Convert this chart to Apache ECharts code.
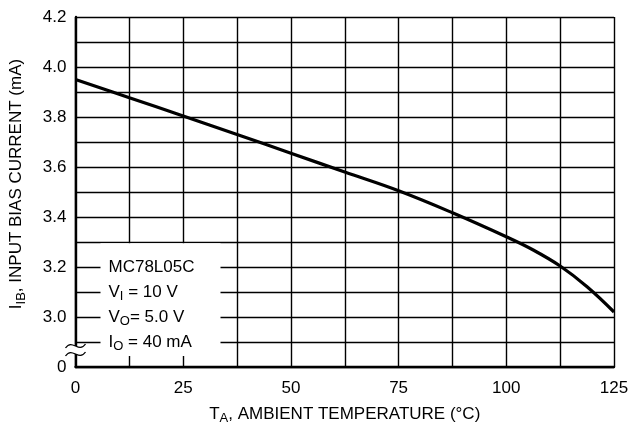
<!DOCTYPE html>
<html>
<head>
<meta charset="utf-8">
<script src="https://cdn.jsdelivr.net/npm/echarts@6/dist/echarts.min.js"></script>
<style>
html,body{margin:0;padding:0;background:#fff;}
#chart{width:633px;height:435px;}
</style>
</head>
<body>
<div id="chart"></div>
<script>
// ---- data ----
const temperatures = [0, 12.5, 25, 37.5, 50, 62.5, 75, 87.5, 100, 106.25, 112.5, 118.75, 125];
const biasCurrent = [3.95, 3.877, 3.804, 3.73, 3.655, 3.58, 3.505, 3.417, 3.321, 3.268, 3.204, 3.121, 3.02];
const xTickLabels = [0, 25, 50, 75, 100, 125];
const yTickLabels = ['3.0', '3.2', '3.4', '3.6', '3.8', '4.0', '4.2'];
const yBreakValue = 2.8;   // bottom of axis, shown as "0"
const noteLines = [
  'MC78L05C',
  'V{s|I} = 10 V',
  'V{s|O}= 5.0 V',
  'I{s|O} = 40 mA'
];
const noteRows = [3.2, 3.1, 3.0, 2.9];

const FONT = '"Liberation Sans", Arial, sans-serif';
const FS = 17;
const SUB = 13;

const chart = echarts.init(document.getElementById('chart'), null, {renderer: 'canvas'});

const option = {
  animation: false,
  backgroundColor: '#fff',
  textStyle: {fontFamily: FONT},
  grid: {left: 72, right: 19, top: 17, bottom: 68, containLabel: false},
  xAxis: {
    type: 'value',
    min: 0, max: 125, interval: 12.5,
    axisLine: {show: true, lineStyle: {color: '#000', width: 2.4}},
    axisTick: {show: false},
    splitLine: {show: true, lineStyle: {color: '#000', width: 1.4}},
    axisLabel: {
      color: '#000', fontSize: FS, fontFamily: FONT, margin: 13,
      formatter: v => xTickLabels.indexOf(Math.round(v * 100) / 100) >= 0 ? String(Math.round(v)) : ''
    },
    name: 'T{s|A}, AMBIENT TEMPERATURE (°C)',
    nameLocation: 'middle',
    nameGap: 36,
    nameTextStyle: {
      color: '#000', fontSize: FS, fontFamily: FONT,
      rich: {s: {fontSize: SUB, fontFamily: FONT, color: '#000', padding: [9, 0, 0, 0]}}
    }
  },
  yAxis: {
    type: 'value',
    min: yBreakValue, max: 4.2, interval: 0.1,
    axisLine: {show: true, lineStyle: {color: '#000', width: 2.4}},
    axisTick: {show: false},
    splitLine: {show: true, lineStyle: {color: '#000', width: 1.4}},
    axisLabel: {
      color: '#000', fontSize: FS, fontFamily: FONT, margin: 9,
      formatter: v => {
        const r = Math.round(v * 10) / 10;
        if (Math.abs(r - yBreakValue) < 1e-6) return '0';
        const s = r.toFixed(1);
        return yTickLabels.indexOf(s) >= 0 ? s : '';
      }
    },
    name: 'I{s|IB}, INPUT BIAS CURRENT (mA)',
    nameLocation: 'middle',
    nameRotate: 90,
    nameGap: 48,
    nameTextStyle: {
      color: '#000', fontSize: FS, fontFamily: FONT,
      padding: [0, 0, 0, 16],
      rich: {s: {fontSize: SUB, fontFamily: FONT, color: '#000', padding: [9, 0, 0, 0]}}
    }
  },
  series: [{
    type: 'line',
    data: temperatures.map((t, i) => [t, biasCurrent[i]]),
    smooth: 0.4,
    symbol: 'none',
    lineStyle: {color: '#000', width: 3.2},
    z: 5
  }]
};
chart.setOption(option);

function px(x, y) { return chart.convertToPixel({gridIndex: 0}, [x, y]); }

const origin = px(0, yBreakValue);
const top33 = px(0, 3.3);
const graphics = [];
// white box behind the condition notes
graphics.push({
  type: 'rect', z: 20,
  shape: {x: origin[0] + 25, y: top33[1] + 1.2, width: 120, height: (origin[1] - 11) - (top33[1] + 1.2)},
  style: {fill: '#fff'}
});
noteLines.forEach((txt, i) => {
  const p = px(0, noteRows[i]);
  graphics.push({
    type: 'text', z: 21,
    x: p[0] + 33, y: p[1],
    style: {
      text: txt, fill: '#000',
      fontSize: FS, fontFamily: FONT,
      verticalAlign: 'middle', align: 'left',
      rich: {s: {fontSize: SUB, fontFamily: FONT, fill: '#000', padding: [9, 0, 0, 0]}}
    }
  });
});
// axis break symbol
const bx = origin[0], by = origin[1] - 17;
graphics.push({type: 'rect', z: 22, shape: {x: bx - 3, y: by - 4, width: 6, height: 8}, style: {fill: '#fff'}});
[-4, 4].forEach(dy => {
  graphics.push({
    type: 'bezierCurve', z: 23,
    shape: {x1: bx - 10, y1: by + dy + 2, x2: bx + 10, y2: by + dy - 2,
            cpx1: bx - 3, cpy1: by + dy - 8, cpx2: bx + 3, cpy2: by + dy + 8},
    style: {stroke: '#000', lineWidth: 1.3, fill: null}
  });
});
chart.setOption({graphic: graphics});
</script>
</body>
</html>
